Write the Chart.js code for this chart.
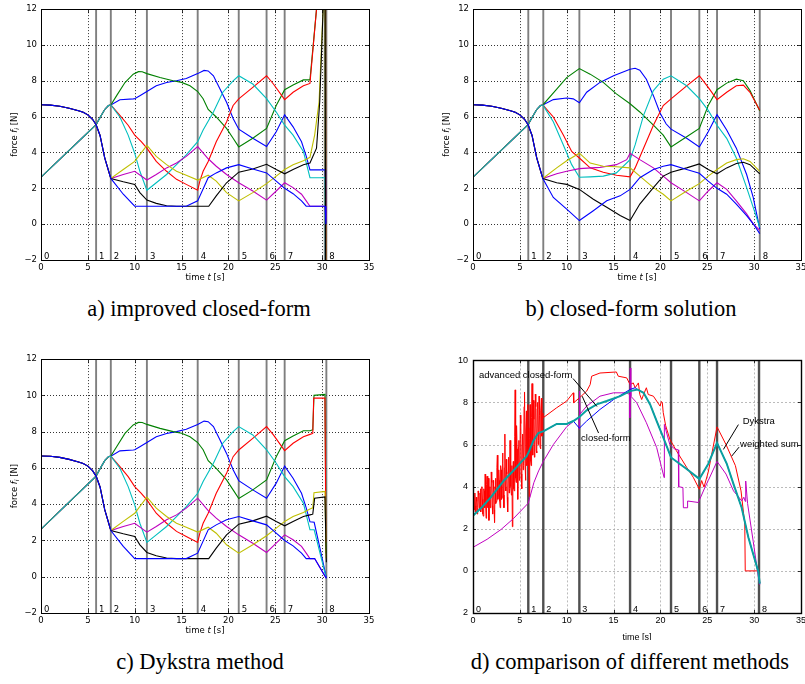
<!DOCTYPE html>
<html>
<head>
<meta charset="utf-8">
<script src="https://cdn.jsdelivr.net/npm/chart.js@4.4.1/dist/chart.umd.min.js"></script>
<style>
  body { margin:0; width:805px; height:684px; overflow:hidden; background:#fff; position:relative; }
  canvas { position:absolute; }
  .cap { position:absolute; font-family:"Liberation Serif","Times New Roman",serif; font-size:22.5px; line-height:22px; white-space:nowrap; transform:translateX(-50%); color:#000; }
</style>
</head>
<body>
<canvas id="chartA" width="400" height="290" style="left:0;top:0"></canvas>
<canvas id="chartB" width="388" height="290" style="left:432px;top:0"></canvas>
<canvas id="chartC" width="400" height="290" style="left:0;top:350px"></canvas>
<canvas id="chartD" width="388" height="290" style="left:432px;top:350px"></canvas>
<div class="cap" style="left:199px;top:298px">a) improved closed-form</div>
<div class="cap" style="left:631px;top:298px">b) closed-form solution</div>
<div class="cap" style="left:200px;top:651px">c) Dykstra method</div>
<div class="cap" style="left:630px;top:651px">d) comparison of different methods</div>
<script>
// phase start times (s), labels 1..8
const phaseNames = ['0', '1', '2', '3', '4', '5', '6', '7', '8'];
const phasesA = [5.88, 7.45, 11.3, 16.72, 21.1, 24.07, 26.0, 30.45];
const phasesB = [5.9, 7.5, 11.35, 16.76, 21.13, 24.15, 26.04, 30.6];
const phasesC = [5.88, 7.45, 11.3, 16.72, 21.1, 24.07, 26.0, 30.45];
const phasesD = [5.9, 7.5, 11.35, 16.76, 21.13, 24.15, 26.04, 30.52];
const extraLinesA = [30.28];

// phase 0/1, same in a, b, c: [t, f]
const startHigh = [[0,6.66],[1,6.64],[2,6.58],[3,6.47],[4,6.33],[4.5,6.24],[5,6.1],[5.5,5.85],[5.88,5.55],[6.3,4.95],[6.8,3.7],[7.45,2.55]];
const startLow = [[0,2.62],[5.88,5.55],[6.3,5.95],[6.8,6.4],[7.2,6.62],[7.45,6.65]];

// a) and c) share the middle part up to t = 28.7
const midBlue = [[8.42,6.94],[9.84,6.99],[10.0,7.0],[10.55,7.17],[11.3,7.4],[12.3,7.72],[13.4,7.9],[14.46,8.0],[15.5,8.13],[16.72,8.4],[17.4,8.58],[17.84,8.55],[18.4,8.28],[19.1,7.54],[19.8,6.8],[20.5,5.9],[21.1,5.3],[22.6,4.79],[24.07,4.33],[25.1,5.16],[26.0,6.1],[26.9,5.43],[27.8,4.6],[28.3,3.8],[28.7,3.03]];
const midGreen = [[8.07,7.17],[8.96,7.9],[9.84,8.37],[10.4,8.51],[10.8,8.5],[11.3,8.4],[12.7,8.18],[14.1,8.0],[15.0,7.91],[15.9,7.72],[16.72,7.4],[17.3,7.0],[17.84,6.4],[18.7,5.98],[19.8,5.34],[20.5,4.79],[21.1,4.31],[22.6,4.79],[24.07,5.34],[25.1,6.62],[26.0,7.5],[26.9,7.76],[28.0,8.05],[28.7,8.05]];
const midRed = [[8.42,6.07],[9.3,5.52],[10.0,4.97],[10.7,4.6],[11.3,4.24],[12.3,3.5],[13.4,2.95],[14.46,2.5],[15.5,2.22],[16.72,1.89],[16.95,2.4],[17.3,2.95],[17.84,3.5],[18.7,4.6],[19.8,5.7],[20.5,6.62],[21.1,6.99],[22.6,7.63],[24.07,8.28],[24.8,7.82],[26.0,6.95],[26.9,7.36],[28.0,7.72],[28.7,7.85]];
const midCyan = [[8.42,5.98],[9.3,4.97],[10.0,3.96],[10.55,2.95],[11.3,1.89],[12.3,2.31],[13.4,2.77],[14.46,3.32],[15.5,3.87],[16.72,4.6],[17.3,5.25],[18.4,6.26],[19.4,7.36],[20.5,8.0],[21.1,8.28],[22.6,7.82],[24.07,7.0],[25.1,6.26],[26.0,5.52],[26.9,4.97],[28.0,4.06],[28.7,2.59]];
const midYellow = [[8.78,3.05],[10.0,3.5],[11.3,4.39],[12.3,3.78],[13.4,3.32],[14.46,2.95],[15.5,2.73],[16.72,2.46],[17.84,2.73],[18.7,2.4],[19.8,1.76],[21.1,1.3],[22.6,1.76],[24.07,2.26],[25.1,2.68],[26.0,3.05],[26.9,3.32],[28.0,3.54],[28.7,3.73]];
const midMagenta = [[8.78,2.77],[10.0,2.95],[11.3,2.46],[12.3,2.77],[13.4,3.14],[14.46,3.41],[15.5,3.78],[16.72,4.33],[17.84,3.65],[18.7,3.23],[19.8,2.77],[21.1,2.31],[22.6,1.85],[24.07,1.34],[25.1,1.85],[26.0,2.31],[26.9,2.04],[27.8,1.67],[28.3,1.3],[28.7,1.0]];
const midBlack = [[8.78,2.37],[10.0,2.22],[10.55,1.76],[11.3,1.34],[12.3,1.16],[13.4,1.03],[14.46,1.0],[17.9,1.0],[18.7,1.58],[19.8,2.31],[21.1,2.9],[22.6,3.08],[24.07,3.34],[25.1,3.05],[26.0,2.81],[26.9,3.05],[28.0,3.32],[28.7,3.41]];
const midBlue2 = [[8.78,1.67],[10.0,1.0],[15.5,1.0],[16.72,1.3],[17.84,2.59],[18.7,2.86],[19.8,3.14],[21.1,3.32],[22.6,3.08],[24.07,2.86],[25.1,2.4],[26.0,2.0],[26.9,1.7],[27.8,1.3],[28.3,1.0],[28.7,1.0]];

// a) end: forces run away
const endABlue = [[30.32,3.03],[30.4,0.0]];
const endAGreen = [[29.4,12],[30.3,40],[30.45,-30]];
const endARed = [[29.4,12],[30.3,40],[30.45,-30]];
const endACyan = [[30.32,2.59],[30.42,-10]];
const endAYellow = [[29.2,4.97],[29.67,6.81],[29.9,9.56],[30.1,12],[30.3,20],[30.45,-30]];
const endAMagenta = [[30.32,1.0],[30.4,0.2]];
const endABlack = [[29.4,4.24],[29.74,6.81],[30.0,10.48],[30.1,12],[30.3,20],[30.45,-30]];
const endABlue2 = [[30.32,1.0],[30.4,0.0]];

// c) end
const endCBlue = [[29.15,3.0],[29.8,1.5],[30.45,-0.05]];
const endCGreen = [[29.0,8.1],[29.13,10.0],[30.3,10.05],[30.42,1.3]];
const endCRed = [[29.0,7.9],[29.1,9.85],[30.3,9.85],[30.4,1.9]];
const endCCyan = [[29.15,2.59],[30.4,0.0]];
const endCYellow = [[29.0,3.8],[29.13,4.63],[30.3,4.7],[30.42,1.0]];
const endCMagenta = [[29.2,1.0],[30.4,-0.05]];
const endCBlack = [[29.0,3.45],[29.2,4.33],[30.3,4.4],[30.45,0.8]];
const endCBlue2 = [[29.2,1.0],[30.45,-0.1]];

// b) closed-form solution, from t = 7.5
const bBlue = [[8.57,6.95],[10.0,7.04],[10.7,6.99],[11.35,6.77],[12.13,7.36],[13.55,7.91],[15.0,8.28],[16.76,8.64],[17.3,8.7],[17.8,8.59],[18.5,8.09],[19.25,7.17],[19.96,6.2],[20.6,5.6],[21.13,5.3],[22.8,4.79],[24.15,4.31],[25.1,5.16],[26.04,6.11],[27.07,5.25],[28.1,4.24],[29.2,2.77],[29.9,1.49],[30.6,-0.26]];
const bGreen = [[8.93,7.54],[10.0,8.18],[11.35,8.68],[12.5,8.37],[13.9,7.91],[15.3,7.27],[16.76,6.72],[17.8,6.26],[19.25,5.52],[20.3,4.97],[21.13,4.31],[22.8,4.88],[24.15,5.34],[25.1,6.62],[26.04,7.5],[27.07,7.87],[28.1,8.09],[28.85,8.0],[29.56,7.45],[30.6,6.31]];
const bRed = [[8.57,5.98],[9.64,4.97],[10.53,4.06],[11.35,3.69],[12.5,3.14],[13.9,2.9],[15.3,2.73],[16.76,2.64],[17.3,3.14],[18.2,4.24],[19.25,5.52],[20.3,6.62],[21.13,6.99],[22.8,7.72],[24.15,8.28],[25.1,7.63],[26.04,6.95],[27.07,7.36],[28.1,7.72],[28.85,7.76],[29.56,7.36],[30.6,6.35]];
const bCyan = [[8.57,5.71],[9.64,4.42],[10.53,3.32],[11.35,2.62],[12.5,2.64],[13.9,2.68],[15.3,2.86],[16.76,3.6],[17.3,4.42],[18.2,6.07],[19.25,7.45],[20.3,8.09],[21.13,8.28],[22.8,7.72],[24.15,7.0],[25.1,6.35],[26.04,5.52],[27.07,4.79],[28.1,3.69],[29.2,2.04],[29.9,0.94],[30.6,-0.17]];
const bYellow = [[8.93,3.14],[10.0,3.54],[11.35,3.96],[12.5,3.41],[13.9,3.23],[15.3,3.2],[16.76,3.14],[17.8,2.68],[19.25,2.04],[20.3,1.67],[21.13,1.3],[22.8,1.85],[24.15,2.26],[25.1,2.68],[26.04,3.05],[27.07,3.41],[28.1,3.6],[28.85,3.65],[29.56,3.5],[30.6,2.95]];
const bMagenta = [[8.93,2.81],[10.0,2.95],[11.35,3.1],[13.55,3.17],[15.3,3.32],[16.4,3.6],[16.76,3.96],[17.8,3.6],[19.25,3.14],[20.3,2.68],[21.13,2.31],[22.8,1.76],[24.15,1.3],[25.1,1.85],[26.04,2.31],[27.07,1.94],[28.1,1.3],[29.2,0.57],[29.9,0.02],[30.6,-0.35]];
const bBlack = [[8.93,2.31],[10.0,2.22],[11.35,1.94],[12.84,1.39],[14.27,0.94],[15.7,0.48],[16.76,0.2],[17.8,1.12],[19.25,2.04],[20.3,2.68],[21.13,2.9],[22.8,3.14],[24.15,3.36],[25.1,3.05],[26.04,2.81],[27.07,3.14],[28.1,3.38],[28.85,3.45],[29.56,3.32],[30.6,2.81]];
const bBlue2 = [[8.57,1.49],[10.0,0.84],[11.35,0.2],[12.84,0.75],[14.27,1.3],[15.7,1.58],[16.76,1.94],[17.8,2.59],[19.25,3.05],[20.3,3.23],[21.13,3.32],[22.8,3.05],[24.15,2.84],[25.1,2.4],[26.04,2.0],[27.07,1.67],[28.1,1.12],[29.2,0.48],[29.9,0.02],[30.6,-0.53]];

// d) comparison (one cable)
const dRedNoise = [[0,3.5],[0.05,2.8],[0.1,3.6],[0.15,2.9],[0.2,3.7],[0.25,3.1],[0.3,2.8],[0.35,3.5],[0.4,3.3],[0.45,2.7],[0.5,3.0],[0.55,3.8],[0.6,3.6],[0.65,3.0],[0.7,2.9],[0.75,3.7],[0.8,3.9],[0.85,2.8],[0.9,3.1],[0.95,4.0],
  [1.0,3.4],[1.05,2.7],[1.1,2.6],[1.15,3.9],[1.2,3.8],[1.25,3.0],[1.3,4.6],[1.35,3.2],[1.4,2.5],[1.45,4.1],[1.5,4.5],[1.55,3.0],[1.6,3.2],[1.65,4.4],[1.7,2.4],[1.75,3.6],[1.8,4.0],[1.85,3.0],[1.9,3.4],[1.95,4.7],
  [2.0,4.2],[2.05,3.1],[2.1,2.7],[2.15,4.3],[2.2,3.9],[2.25,2.9],[2.3,2.3],[2.35,4.0],[2.4,4.4],[2.45,3.2],[2.5,3.3],[2.55,4.9],[2.6,5.5],[2.65,3.4],[2.7,3.6],[2.75,4.8],[2.8,4.3],[2.85,3.3],[2.9,3.0],[2.95,5.0],
  [3.0,4.8],[3.05,3.4],[3.1,3.5],[3.15,5.6],[3.2,5.1],[3.25,3.6],[3.3,3.0],[3.35,4.9],[3.4,6.5],[3.45,4.0],[3.5,3.8],[3.55,5.3],[3.6,4.6],[3.65,3.5],[3.7,2.8],[3.75,4.7],[3.8,5.4],[3.85,3.7],[3.9,3.9],[3.95,6.2],
  [4.0,6.0],[4.05,4.0],[4.1,3.6],[4.15,5.0],[4.2,2.1],[4.25,4.6],[4.3,5.2],[4.35,3.9],[4.4,3.8],[4.45,6.4],[4.5,8.6],[4.55,4.4],[4.6,4.2],[4.65,6.9],[4.7,5.8],[4.75,4.0],[4.8,3.4],[4.85,5.9],[4.9,6.2],[4.95,4.3],
  [5.0,4.5],[5.05,7.4],[5.1,7.0],[5.15,4.6],[5.2,3.9],[5.25,6.0],[5.3,6.5],[5.35,4.8],[5.4,5.0],[5.45,7.8],[5.5,8.5],[5.55,5.1],[5.6,4.3],[5.65,6.6],[5.7,7.6],[5.75,5.0],[5.8,5.2],[5.85,7.9],[5.9,6.8],[5.95,4.8],
  [6.0,3.5],[6.05,6.3],[6.1,7.9],[6.15,5.2],[6.2,5.0],[6.25,7.3],[6.3,8.9],[6.35,5.8],[6.4,5.5],[6.45,8.1],[6.5,7.2],[6.55,5.4],[6.6,6.0],[6.65,8.4],[6.7,7.8],[6.75,5.7],[6.8,5.6],[6.85,7.7],[6.9,8.0],[6.95,6.0],
  [7.0,6.2],[7.05,8.3],[7.1,7.4],[7.15,5.9],[7.2,5.8],[7.25,7.6],[7.3,8.2],[7.35,6.4],[7.4,6.5],[7.45,7.5]];
const dRedRest = [[7.5,7.28],[8.93,7.75],[10.0,8.07],[10.7,8.46],[10.75,7.99],[11.35,8.22],[12.13,8.54],[12.5,8.85],[12.66,9.25],[13.55,9.4],[15.3,9.45],[15.5,9.25],[16.4,9.17],[16.76,8.85],[17.1,8.93],[17.3,8.7],[17.65,8.93],[17.8,8.38],[18.0,8.14],[18.2,8.38],[18.5,8.7],[18.7,8.38],[19.25,8.3],[19.96,7.83],[20.1,8.05],[20.2,7.99],[20.3,7.52],[20.56,6.9],[21.0,6.26],[21.7,5.71],[22.8,4.92],[23.5,4.45],[24.15,3.88],[24.4,4.29],[24.65,3.98],[25.1,4.69],[26.04,6.84],[27.0,6.0],[28.0,5.0],[28.6,3.8],[29.0,2.23],[29.05,0.0],[30.45,0.0],[30.6,-0.58]];
const dMagenta = [[0,1.12],[1.5,1.5],[3.0,1.97],[4.3,2.48],[5.9,3.22],[6.5,4.2],[7.0,4.75],[7.5,5.2],[8.57,6.0],[10.0,6.85],[11.3,7.3],[11.33,6.73],[11.37,8.54],[11.42,7.45],[12.13,7.83],[13.55,8.3],[15.0,8.46],[16.4,8.46],[16.72,8.38],[16.74,7.28],[16.78,9.64],[16.84,8.3],[17.47,7.99],[18.5,7.04],[19.6,5.86],[20.1,4.95],[20.4,4.43],[20.42,6.96],[21.0,6.0],[21.5,5.8],[21.9,5.75],[21.95,4.0],[22.4,3.96],[22.45,3.0],[22.85,3.0],[22.9,3.32],[24.05,3.25],[24.76,3.98],[25.1,4.29],[26.04,5.2],[27.0,4.6],[27.8,3.8],[28.67,3.33],[28.9,3.5],[29.05,3.3],[29.1,4.27],[29.3,3.2],[29.9,1.4],[30.45,-0.3],[30.6,-0.66]];
const dTealStart = [[0,2.62],[1,3.05],[2,3.55],[3.25,4.27],[4.3,4.76],[5.2,5.2],[5.73,5.45],[6.0,5.7],[6.44,6.18],[6.97,6.55],[7.6,6.65],[8.93,6.98],[10.0,6.98],[10.7,7.12]];
const dTealMid = [[11.35,7.31],[12.13,7.63],[13.2,7.91],[14.27,8.07],[15.7,8.3],[16.76,8.54],[17.54,8.62]];
const dBlueMid = [[11.35,6.78],[12.13,7.12],[13.55,7.67],[15.0,8.14],[16.76,8.62],[17.3,8.7],[17.54,8.62]];
const dTealEnd = [[18.2,8.46],[18.9,7.91],[19.6,7.12],[20.3,6.34],[21.13,5.39],[22.8,4.84],[24.15,4.37],[25.1,5.08],[26.04,6.08],[27.07,5.1],[27.8,4.12],[28.67,3.0],[29.38,1.6],[30.45,-0.05],[30.6,-0.6]];

// d) annotations: text anchor [t, f] (left, middle) and leader line
const noteText = ['advanced closed-form', 'closed-form', 'Dykstra', 'weighted sum'];
const noteAt = [[0.64, 9.27], [11.53, 6.3], [28.78, 7.1], [28.5, 6.03]];
const noteLead = [[[10.67, 9.14], [13.23, 7.81]], [[13.4, 6.55], [11.65, 8.3]], [[28.32, 6.95], [26.72, 5.77]], [[28.39, 5.88], [27.6, 5.45]]];

const C = { b: '#0000ff', g: '#008000', r: '#ff0000', c: '#00bfbf', m: '#bf00bf', y: '#bfbf00', k: '#000000' };
const MPL = '"DejaVu Sans", sans-serif';
const GP = '"Liberation Sans", Arial, sans-serif';

const pts = arr => arr.map(p => ({ x: p[0], y: p[1] }));
const line = (arr, color, w) => ({ data: pts(arr), borderColor: color, borderWidth: w || 1.1, pointRadius: 0, tension: 0, fill: false });

function runs(ctx, parts, x, y) {
  let w = 0;
  parts.forEach(p => { ctx.font = p[1]; w += ctx.measureText(p[0]).width; });
  let cx = x - w / 2;
  parts.forEach(p => { ctx.font = p[1]; ctx.fillText(p[0], cx, y + (p[2] || 0)); cx += ctx.measureText(p[0]).width; });
}

const deco = {
  id: 'deco',
  beforeDatasetsDraw(chart, args, o) {
    const { ctx, chartArea: a, scales: { x, y } } = chart;
    ctx.save();
    ctx.strokeStyle = o.gridColor;
    ctx.lineWidth = o.gridWidth;
    ctx.setLineDash(o.gridDash);
    x.ticks.forEach(t => {
      if (t.value <= x.min || t.value >= x.max) return;
      const px = Math.round(x.getPixelForValue(t.value)) + 0.5;
      ctx.beginPath(); ctx.moveTo(px, a.top); ctx.lineTo(px, a.bottom); ctx.stroke();
    });
    y.ticks.forEach(t => {
      if (t.value <= y.min || t.value >= y.max) return;
      const py = Math.round(y.getPixelForValue(t.value)) + 0.5;
      ctx.beginPath(); ctx.moveTo(a.left, py); ctx.lineTo(a.right, py); ctx.stroke();
    });
    ctx.setLineDash([]);
    ctx.strokeStyle = o.phaseColor;
    ctx.lineWidth = o.phaseWidth;
    o.phases.concat(o.extra || []).forEach(t => {
      const px = x.getPixelForValue(t);
      ctx.beginPath(); ctx.moveTo(px, a.top); ctx.lineTo(px, a.bottom); ctx.stroke();
    });
    ctx.fillStyle = '#000';
    ctx.font = o.font;
    ctx.textAlign = 'left';
    ctx.textBaseline = 'alphabetic';
    ctx.fillText(phaseNames[0], x.getPixelForValue(0) + 3, a.bottom - 1.5);
    o.phases.forEach((t, i) => ctx.fillText(phaseNames[i + 1], x.getPixelForValue(t) + 3, a.bottom - 1.5));
    ctx.restore();
  },
  afterDatasetsDraw(chart, args, o) {
    const { ctx, chartArea: a, scales: { x, y } } = chart;
    ctx.save();
    // ticks inside, all four sides
    ctx.strokeStyle = '#000';
    ctx.lineWidth = 0.8;
    x.ticks.forEach(t => {
      const px = Math.round(x.getPixelForValue(t.value)) + 0.5;
      ctx.beginPath();
      ctx.moveTo(px, a.bottom); ctx.lineTo(px, a.bottom - o.tick);
      ctx.moveTo(px, a.top); ctx.lineTo(px, a.top + o.tick);
      ctx.stroke();
    });
    y.ticks.forEach(t => {
      const py = Math.round(y.getPixelForValue(t.value)) + 0.5;
      ctx.beginPath();
      ctx.moveTo(a.left, py); ctx.lineTo(a.left + o.tick, py);
      ctx.moveTo(a.right, py); ctx.lineTo(a.right - o.tick, py);
      ctx.stroke();
    });
    ctx.lineWidth = o.frame;
    ctx.strokeRect(Math.round(a.left) + 0.5, Math.round(a.top) + 0.5, Math.round(a.right - a.left), Math.round(a.bottom - a.top));
    // axis titles
    ctx.fillStyle = '#000';
    ctx.textBaseline = 'alphabetic';
    runs(ctx, o.xtitle, (a.left + a.right) / 2, a.bottom + o.xtitleY);
    if (o.ytitle) {
      ctx.translate(a.left - 26, (a.top + a.bottom) / 2);
      ctx.rotate(-Math.PI / 2);
      ctx.textBaseline = 'middle';
      runs(ctx, o.ytitle, 0, 0);
      ctx.setTransform(1, 0, 0, 1, 0, 0);
    }
    // notes
    if (o.notes) {
      ctx.font = o.noteFont;
      ctx.textBaseline = 'middle';
      ctx.textAlign = 'left';
      ctx.lineWidth = 1;
      noteText.forEach((txt, i) => {
        ctx.fillText(txt, x.getPixelForValue(noteAt[i][0]), y.getPixelForValue(noteAt[i][1]));
        const l = noteLead[i];
        ctx.beginPath();
        ctx.moveTo(x.getPixelForValue(l[0][0]), y.getPixelForValue(l[0][1]));
        ctx.lineTo(x.getPixelForValue(l[1][0]), y.getPixelForValue(l[1][1]));
        ctx.stroke();
      });
    }
    ctx.restore();
  }
};

const f85 = '8.5px ' + MPL, fi85 = 'italic 8.5px ' + MPL, fsub = 'italic 6px ' + MPL;
const mplTitleX = [['time ', f85], ['t', fi85], [' [s]', f85]];
const mplTitleY = [['force ', f85], ['f', fi85], ['i', fsub, 2], [' [N]', f85]];

function makeChart(id, datasets, o) {
  const mpl = o.style === 'mpl';
  return new Chart(document.getElementById(id), {
    type: 'line',
    data: { datasets },
    options: {
      responsive: false,
      animation: false,
      events: [],
      layout: { padding: { left: 0, top: o.padTop, right: o.padRight, bottom: 0 } },
      plugins: {
        legend: { display: false },
        tooltip: { enabled: false },
        deco: {
          phases: o.phases, extra: o.extra,
          gridColor: mpl ? '#000' : '#aaa', gridWidth: 0.8, gridDash: mpl ? [1, 2] : [2, 2],
          phaseColor: mpl ? 'rgba(95,95,95,0.8)' : 'rgba(60,60,60,0.9)', phaseWidth: mpl ? 1.9 : 2.4,
          font: mpl ? f85 : '9px ' + GP,
          tick: mpl ? 4 : 3, frame: mpl ? 1 : 1.4,
          xtitle: mpl ? mplTitleX : [['time [s]', '9px ' + GP]],
          xtitleY: mpl ? 20 : 27,
          ytitle: mpl ? mplTitleY : null,
          notes: !mpl, noteFont: '9.5px ' + GP
        }
      },
      scales: {
        x: {
          type: 'linear', min: 0, max: 35,
          ticks: { stepSize: 5, padding: mpl ? 3 : 2, color: '#000', font: { family: mpl ? MPL : GP, size: mpl ? 8.5 : 9 }, maxRotation: 0, autoSkip: false },
          grid: { display: false, drawTicks: false }, border: { display: false },
          afterFit: s => { s.height = o.xHeight; }
        },
        y: {
          type: 'linear', min: o.ymin, max: o.ymax,
          ticks: { stepSize: 2, padding: mpl ? 4 : 5, color: '#000', font: { family: mpl ? MPL : GP, size: mpl ? 8.5 : 9 }, callback: o.yfmt },
          grid: { display: false, drawTicks: false }, border: { display: false },
          afterFit: s => { s.width = 41; }
        }
      }
    },
    plugins: [deco]
  });
}

const mplFmt = v => v < 0 ? '\u2212' + Math.abs(v) : String(v);
const gpFmt = v => String(Math.abs(v));

// a) improved closed-form
makeChart('chartA', [
  line(startHigh.concat(midBlue2, endABlue2), C.b),
  line(startHigh.concat(midBlack, endABlack), C.k),
  line(startHigh.concat(midYellow, endAYellow), C.y),
  line(startHigh.concat(midMagenta, endAMagenta), C.m),
  line(startLow.concat(midCyan, endACyan), C.c),
  line(startLow.concat(midRed, endARed), C.r),
  line(startLow.concat(midGreen, endAGreen), C.g),
  line(startLow.concat(midBlue, endABlue), C.b)
], { style: 'mpl', phases: phasesA, extra: extraLinesA, padTop: 6, padRight: 31, xHeight: 30, ymin: -2, ymax: 12, yfmt: mplFmt });

// b) closed-form solution
makeChart('chartB', [
  line(startHigh.concat(bBlue2), C.b),
  line(startHigh.concat(bBlack), C.k),
  line(startHigh.concat(bYellow), C.y),
  line(startHigh.concat(bMagenta), C.m),
  line(startLow.concat(bCyan), C.c),
  line(startLow.concat(bRed), C.r),
  line(startLow.concat(bGreen), C.g),
  line(startLow.concat(bBlue), C.b)
], { style: 'mpl', phases: phasesB, padTop: 6, padRight: 19, xHeight: 30, ymin: -2, ymax: 12, yfmt: mplFmt });

// c) Dykstra method
makeChart('chartC', [
  line(startHigh.concat(midBlue2, endCBlue2), C.b),
  line(startHigh.concat(midBlack, endCBlack), C.k),
  line(startHigh.concat(midYellow, endCYellow), C.y),
  line(startHigh.concat(midMagenta, endCMagenta), C.m),
  line(startLow.concat(midCyan, endCCyan), C.c),
  line(startLow.concat(midRed, endCRed), C.r),
  line(startLow.concat(midGreen, endCGreen), C.g),
  line(startLow.concat(midBlue, endCBlue), C.b)
], { style: 'mpl', phases: phasesC, padTop: 9, padRight: 31, xHeight: 27, ymin: -2, ymax: 12, yfmt: mplFmt });

// d) comparison of different methods
makeChart('chartD', [
  line(dTealStart.concat(dTealMid, dTealEnd), '#0aa0a0', 2),
  line(dTealStart.concat(dBlueMid, dTealEnd), '#0000ff', 1),
  line(dMagenta, '#c000c0', 1),
  line(dRedNoise.concat(dRedRest), '#ff0000', 1)
], { style: 'gp', phases: phasesD, padTop: 9, padRight: 19, xHeight: 27, ymin: -2, ymax: 10, yfmt: gpFmt });
</script>
</body>
</html>
